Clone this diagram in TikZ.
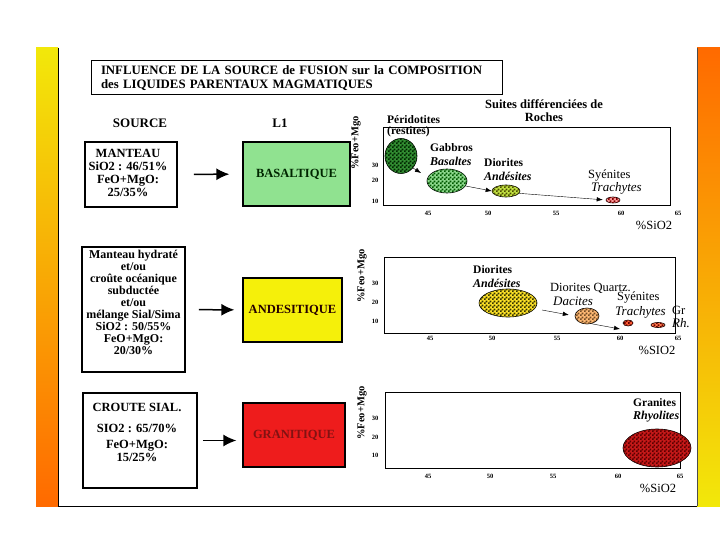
\documentclass[tikz,border=0pt]{standalone}
\usepackage{fontspec}
\setmainfont{Liberation Serif}
\usetikzlibrary{shapes,shapes.geometric,arrows.meta,patterns,positioning}
\definecolor{stripyellow}{RGB}{242,232,10}
\definecolor{striporange}{RGB}{255,106,0}
\definecolor{basgreen}{RGB}{144,226,144}
\definecolor{andyellow}{RGB}{245,240,10}
\definecolor{granred}{RGB}{238,28,28}
\definecolor{granitxt}{RGB}{130,18,18}
% fine checks for the rock fields
\pgfdeclarepatternformonly{finechecks}{\pgfpointorigin}{\pgfqpoint{4pt}{4pt}}{\pgfqpoint{4pt}{4pt}}{
    \pgfpathrectangle{\pgfpointorigin}{\pgfqpoint{2pt}{2pt}}
    \pgfpathrectangle{\pgfqpoint{2pt}{2pt}}{\pgfqpoint{2pt}{2pt}}
    \pgfusepath{fill}}
\tikzstyle{titlebox} = [draw, line width=1pt, rectangle, minimum width=411pt,
    minimum height=34pt, text width=391pt, inner xsep=10pt, align=left,
    font=\bfseries\fontsize{12.8}{14}\selectfont]
\tikzstyle{srcbox} = [draw, line width=1.6pt, rectangle, fill=white, inner sep=0pt]
\tikzstyle{srctext} = [align=center, inner sep=0pt, font=\bfseries\fontsize{12.5}{13}\selectfont]
\tikzstyle{liqbox} = [draw, line width=1.3pt, rectangle, minimum width=102pt,
    minimum height=64pt, inner sep=0pt, font=\bfseries\fontsize{12.5}{14}\selectfont]
\tikzstyle{plotbox} = [draw, line width=0.8pt, rectangle, inner sep=0pt, minimum height=76pt]
\tikzstyle{colhead} = [inner sep=0pt, font=\bfseries\fontsize{13}{14}\selectfont]
\tikzstyle{rockname} = [anchor=west, inner sep=0pt, font=\bfseries\fontsize{11.5}{12}\selectfont]
\tikzstyle{rockit} = [anchor=west, inner sep=0pt, font=\bfseries\itshape\fontsize{12}{12}\selectfont]
\tikzstyle{rocklight} = [anchor=west, inner sep=0pt, font=\fontsize{12.5}{12}\selectfont]
\tikzstyle{rocklightit} = [anchor=west, inner sep=0pt, font=\itshape\fontsize{13}{12}\selectfont]
\tikzstyle{ticklbl} = [inner sep=0pt, font=\bfseries\fontsize{6.5}{7}\selectfont]
\tikzstyle{ylab} = [rotate=90, inner sep=0pt, font=\bfseries\fontsize{10.5}{11}\selectfont]
\tikzstyle{xlab} = [inner sep=0pt, font=\fontsize{12.5}{13}\selectfont]
\tikzstyle{feed} = [->, >={Latex[length=13pt,width=12pt]}, line width=1.5pt]
\tikzset{rock/.style 2 args={draw, ellipse, inner sep=0pt, line width=0.6pt,
    fill=#1, postaction={pattern=finechecks, pattern color=#2}}}

\begin{document}
\begin{tikzpicture}[x=1pt, y=-1pt, >={Latex[length=6pt,width=4.5pt]}]
    \useasboundingbox (0,0) rectangle (720,540);
    \fill[white] (0,0) rectangle (720,540);
    % side strips
    \shade[top color=stripyellow, bottom color=striporange] (36,48) rectangle (58,506);
    \shade[top color=striporange, bottom color=stripyellow] (697,48) rectangle (720,506);
    \draw[line width=0.8pt] (58,48) -- (58,506) -- (697,506);
    \draw[line width=0.6pt, black!70] (697,48) -- (697,506);
    % headings
    \node [titlebox] (title) at (296.5,78) {INFLUENCE DE LA SOURCE de FUSION sur la COMPOSITION\\des LIQUIDES PARENTAUX MAGMATIQUES};
    \node [colhead] (source) at (140,123) {SOURCE};
    \node [colhead] (l1) at (280,123) {L1};
    \node [srctext, font=\bfseries\fontsize{12.5}{13}\selectfont] (suites) at (544,111) {Suites différenciées de\\Roches};
    % row 1 : manteau
    \node [srcbox, minimum width=92pt, minimum height=65pt] (src1) at (131,174.5) {};
    \node [srctext] (src1txt) at (128,173) {MANTEAU\\SiO2 : 46/51\%\\FeO+MgO:\\25/35\%};
    \node [liqbox, fill=basgreen, minimum width=107pt, text=black!85!green] (liq1) at (296.5,174) {BASALTIQUE};
    \draw [feed, shorten <=16pt, shorten >=13pt] (src1) -- (liq1);
    \node [plotbox, minimum width=287pt, minimum height=78pt] (plot1) at (526.5,166) {};
    \node [ylab] (fm1) at (356,143) {\%Feo+Mgo};
    \foreach \v/\yy in {30/165,20/180,10/201}
        \node [ticklbl] (ya\v) at (375,\yy) {\v};
    \foreach \v/\xx in {45/428,50/488,55/556,60/621,65/678}
        \node [ticklbl] (xa\v) at (\xx,213) {\v};
    \node [xlab] (si1) at (654,225) {\%SiO2};
    \node [rock={green!45!black!80}{green!15!black}, minimum width=32pt, minimum height=35pt] (peri) at (401,156) {};
    \node [rock={green!35!white!85!black}{green!35!black}, minimum width=40pt, minimum height=24pt] (gab) at (447,181) {};
    \node [rock={yellow!70!green!80!white}{olive!60!black}, minimum width=28pt, minimum height=12pt] (dio1) at (506,191) {};
    \node [rock={red!40!white}{red!50!black}, minimum width=14pt, minimum height=6pt] (sye1) at (613,200) {};
    \node [rockname] (perit) at (387,120) {Péridotites};
    \node [rockname] (resti) at (387,132) {(restites)};
    \node [rockname] (gabt) at (430,148) {Gabbros};
    \node [rockit] (bast) at (430,161) {Basaltes};
    \node [rockname] (dio1t) at (484,163) {Diorites};
    \node [rockit] (and1t) at (484,176) {Andésites};
    \node [rocklight] (sye1t) at (588,176) {Syénites};
    \node [rocklightit] (tra1t) at (591,188) {Trachytes};
    \coordinate (peritip) at (421,173);
    \draw [->] (peri.-45) -- (peritip);
    \draw [->] (gab.-15) -- (dio1.west);
    \draw [->, shorten >=3pt] (dio1.-10) -- (sye1.west);
    % row 2 : manteau hydrate
    \node [srcbox, minimum width=103pt, minimum height=125pt] (src2) at (133.5,309.5) {};
    \node [srctext, font=\bfseries\fontsize{12}{11.9}\selectfont] (src2txt) at (133.5,302.5) {Manteau hydraté\\et/ou\\croûte océanique\\subductée\\et/ou\\mélange Sial/Sima\\SiO2 : 50/55\%\\FeO+MgO:\\20/30\%};
    \node [liqbox, fill=andyellow, minimum width=99pt, text=black!85!red] (liq2) at (292.5,310) {ANDESITIQUE};
    \draw [feed, shorten <=13pt, shorten >=8pt] (src2) -- (liq2);
    \node [plotbox, minimum width=291pt] (plot2) at (529.5,295) {};
    \node [ylab] (fm2) at (362,276) {\%Feo+Mgo};
    \foreach \v/\yy in {30/283,20/302,10/321}
        \node [ticklbl] (yb\v) at (375,\yy) {\v};
    \foreach \v/\xx in {45/430,50/492,55/557,60/620,65/678}
        \node [ticklbl] (xb\v) at (\xx,338) {\v};
    \node [xlab] (si2) at (657,350) {\%SIO2};
    \node [rock={yellow!80!orange!85!white}{olive!40!black}, minimum width=58pt, minimum height=28pt] (dio2) at (508,303) {};
    \node [rock={orange!55!white}{brown!60!black}, minimum width=24pt, minimum height=16pt] (dac) at (587,316) {};
    \node [rock={red!60!orange!80!white}{red!40!black}, minimum width=10pt, minimum height=6pt] (sye2) at (628,323) {};
    \node [rock={red!50!orange!70!white}{red!40!black}, minimum width=14pt, minimum height=5pt] (gr2) at (658,325) {};
    \node [rockname] (dio2t) at (473,270) {Diorites};
    \node [rockit] (and2t) at (473,283) {Andésites};
    \node [rocklight] (dqt) at (550,288) {Diorites Quartz.};
    \node [rocklightit] (dact) at (553,301) {Dacites};
    \node [rocklight] (sye2t) at (617,298) {Syénites};
    \node [rocklightit] (tra2t) at (615,312) {Trachytes};
    \node [rocklight] (grt) at (672,310) {Gr};
    \node [rocklightit] (rht) at (672,323) {Rh.};
    \coordinate (dqstart) at (542,310);
    \coordinate (sye2in) at (620,329);
    \draw [->, shorten >=6pt] (dqstart) -- (dac.west);
    \draw [->] (dac.-60) -- (sye2in);
    % row 3 : croute
    \node [srcbox, minimum width=114pt, minimum height=95pt] (src3) at (140,440.5) {};
    \node [srctext] (src3txt) at (137,432) {CROUTE SIAL.\\[8pt]SIO2 : 65/70\%\\[3pt]FeO+MgO:\\15/25\%};
    \node [liqbox, fill=granred, text=granitxt] (liq3) at (294,435) {GRANITIQUE};
    \draw [feed, shorten <=5pt, shorten >=6pt] (src3.east) -- (src3.east -| liq3.west);
    \node [plotbox, minimum width=295pt] (plot3) at (532.5,430) {};
    \node [ylab] (fm3) at (362,413) {\%Feo+Mgo};
    \foreach \v/\yy in {30/418,20/437,10/455}
        \node [ticklbl] (yc\v) at (375,\yy) {\v};
    \foreach \v/\xx in {45/428,50/490,55/553,60/618,65/680}
        \node [ticklbl] (xc\v) at (\xx,476) {\v};
    \node [xlab] (si3) at (658,488) {\%SiO2};
    \node [rock={red!75!black!90}{red!35!black}, minimum width=68pt, minimum height=38pt] (gran) at (657,448) {};
    \node [rockname] (grant) at (633,403) {Granites};
    \node [rockit] (rhyt) at (633,417) {Rhyolites};
\end{tikzpicture}
\end{document}
